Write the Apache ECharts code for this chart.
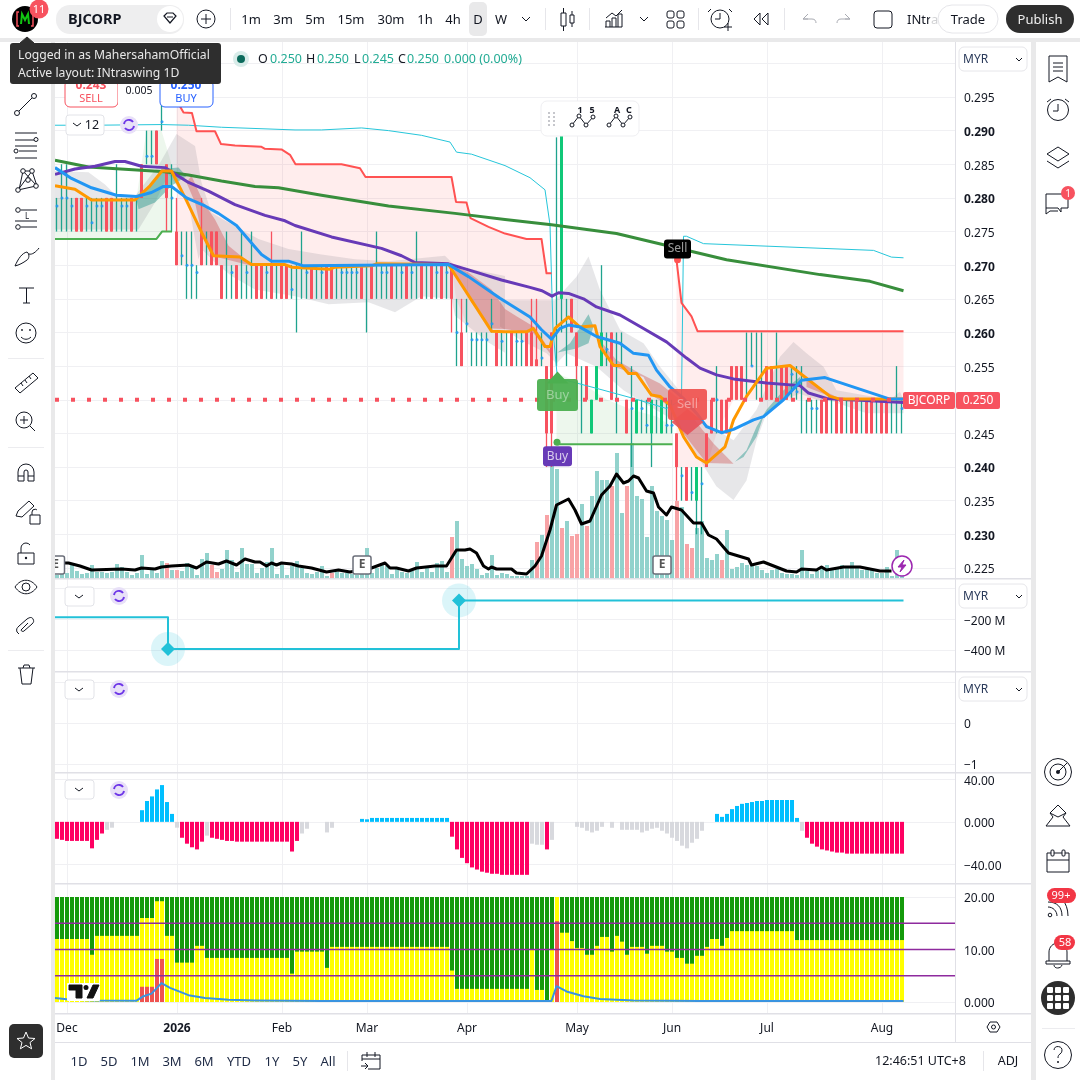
<!DOCTYPE html>
<html><head><meta charset="utf-8"><title>BJCORP</title>
<style>html,body{margin:0;padding:0;background:#fff}#c{width:1080px;height:1080px}</style>
<script src="https://cdn.jsdelivr.net/npm/echarts@6/dist/echarts.min.js"></script></head>
<body><div id="c"></div>
<script>
// ---------- time ticks
const tickIndex=[2,24,45,62,82,104,123,142,165];
const tickLabels=['Dec','2026','Feb','Mar','Apr','May','Jun','Jul','Aug'];
// ---------- candles (170 daily bars)
const candleLow=[.275,.275,.275,.275,.275,.275,.275,.275,.275,.275,
.275,.275,.275,.275,.275,.275,.275,.280,.285,.285,
.285,.290,.275,.275,.270,.270,.265,.265,.265,.270,
.270,.270,.270,.265,.265,.265,.265,.265,.265,.265,
.265,.265,.265,.265,.265,.265,.265,.265,.260,.265,
.265,.265,.265,.265,.265,.265,.265,.265,.265,.265,
.265,.265,.260,.265,.265,.265,.265,.265,.265,.265,
.265,.265,.265,.265,.265,.265,.265,.265,.265,.260,
.255,.255,.260,.255,.255,.255,.255,.260,.255,.255,
.255,.255,.255,.255,.255,.255,.255,.255,.240,.240,
.255,.260,.255,.260,.250,.245,.250,.245,.250,.255,
.255,.250,.245,.255,.245,.240,.245,.245,.245,.240,
.245,.245,.245,.245,.235,.235,.235,.235,.230,.230,
.240,.245,.245,.245,.245,.250,.250,.250,.250,.255,
.250,.250,.250,.250,.250,.250,.250,.250,.250,.245,
.245,.245,.245,.245,.245,.245,.245,.245,.245,.245,
.245,.245,.245,.245,.245,.245,.245,.245,.245,.245];
const candleHigh=[.280,.285,.285,.280,.280,.280,.280,.280,.280,.280,
.280,.280,.285,.280,.280,.280,.280,.285,.290,.290,
.290,.295,.285,.285,.280,.275,.275,.275,.270,.280,
.275,.275,.275,.270,.275,.270,.270,.275,.270,.275,
.270,.270,.270,.275,.270,.270,.270,.270,.270,.275,
.270,.270,.270,.270,.270,.270,.270,.270,.270,.270,
.270,.270,.270,.270,.275,.270,.270,.270,.270,.270,
.270,.270,.275,.270,.270,.270,.270,.270,.270,.270,
.265,.265,.265,.260,.260,.260,.260,.265,.260,.260,
.260,.260,.260,.260,.260,.265,.265,.260,.255,.260,
.289,.290,.265,.265,.260,.255,.255,.250,.255,.270,
.260,.260,.260,.260,.250,.255,.250,.250,.250,.250,
.250,.250,.250,.250,.245,.240,.240,.240,.240,.240,
.245,.250,.255,.250,.250,.255,.255,.255,.260,.260,
.260,.260,.255,.255,.260,.255,.255,.255,.255,.255,
.250,.250,.250,.250,.250,.250,.250,.250,.250,.250,
.250,.250,.250,.250,.250,.250,.250,.250,.255,.250];
const candleOpen=[.275,.275,.275,.275,.280,.280,.275,.275,.275,.275,
.280,.280,.275,.275,.275,.280,.275,.285,.285,.285,
.290,.290,.285,.275,.275,.270,.265,.265,.265,.275,
.270,.275,.275,.270,.265,.265,.270,.265,.265,.265,
.270,.270,.265,.270,.265,.270,.270,.265,.260,.265,
.265,.270,.265,.265,.270,.270,.265,.265,.265,.265,
.265,.270,.260,.270,.265,.265,.265,.270,.265,.265,
.270,.265,.265,.270,.265,.270,.265,.270,.265,.270,
.255,.260,.260,.255,.255,.255,.255,.260,.260,.255,
.255,.260,.255,.255,.260,.260,.256,.255,.255,.260,
.255,.265,.255,.265,.260,.245,.255,.245,.250,.255,
.255,.260,.245,.255,.250,.240,.245,.245,.245,.245,
.245,.245,.245,.245,.245,.235,.240,.235,.235,.230,
.245,.250,.245,.250,.250,.255,.255,.255,.250,.255,
.250,.250,.255,.255,.250,.255,.255,.250,.250,.245,
.245,.245,.245,.250,.250,.245,.250,.250,.245,.250,
.250,.245,.250,.250,.245,.250,.250,.245,.245,.245];
const candleClose=[.275,.275,.275,.275,.275,.275,.275,.275,.275,.275,
.275,.275,.275,.275,.275,.275,.275,.280,.285,.285,
.285,.290,.280,.275,.270,.270,.265,.265,.265,.270,
.270,.270,.270,.265,.265,.265,.265,.265,.265,.265,
.265,.265,.265,.265,.265,.265,.265,.265,.260,.265,
.265,.265,.265,.265,.265,.265,.265,.265,.265,.265,
.265,.265,.260,.265,.265,.265,.265,.265,.265,.265,
.265,.265,.265,.265,.265,.265,.265,.265,.265,.265,
.255,.255,.260,.255,.255,.255,.255,.260,.255,.255,
.255,.255,.255,.255,.255,.255,.255,.255,.245,.245,
.255,.290,.255,.260,.255,.245,.250,.250,.255,.260,
.255,.250,.245,.255,.245,.240,.250,.245,.245,.250,
.245,.250,.245,.245,.240,.235,.235,.235,.240,.230,
.240,.245,.245,.245,.245,.250,.250,.250,.250,.255,
.250,.250,.250,.250,.250,.250,.250,.250,.250,.245,
.245,.245,.245,.245,.245,.245,.245,.245,.245,.245,
.245,.245,.245,.245,.245,.245,.245,.245,.245,.245];
const dotIndex=[0,1,2,3,6,7,8,9,13,14,18,19,21,23,25,26,27,28,35,38,42,47,50,53,57,58,59,60,65,66,69,71,76,78,80,82,83,84,85,86,87,89,92,93,97,110,115,117,118,122,123,125,127,129,132,139,147,148,151,152,169];
const dotPrice=[.2788,.28,.28,.2788,.2788,.2763,.2788,.2788,.2788,.2788,.2862,.2862,.2913,.28,.2714,.27,.27,.2689,.2689,.2689,.2689,.2664,.2689,.2689,.2689,.2689,.2689,.2689,.2689,.2689,.2689,.2689,.2689,.2689,.26,.2613,.2589,.2589,.2589,.2589,.2613,.2587,.2587,.2587,.2562,.2575,.2487,.2487,.2462,.2462,.2462,.2387,.2362,.2375,.25,.255,.2538,.2512,.2487,.2487,.2487];
// ---------- price overlays, [bar, price] vertices
const blueLine=[[-.4,.2845],[2.9,.2829],[6.9,.2815],[11.9,.2804],[15.9,.2802],[18.9,.2808],[21.3,.2817],[22.9,.2817],[25.9,.28],[29.6,.2788],[32.3,.2777],[35.9,.2759],[38.9,.2733],[40.9,.2716],[42.9,.2706],[46.3,.2706],[49.3,.2699],[78.3,.2701],[82.3,.2683],[88.6,.2651],[94.6,.2623],[96.9,.2604],[98.9,.259],[100.6,.2606],[102.3,.2611],[104.6,.2608],[107.9,.2594],[112.6,.2584],[115.3,.2569],[118.3,.2566],[119.9,.2544],[122.6,.2519],[125.3,.2502],[127.9,.248],[129.9,.246],[132.9,.2451],[135.3,.2456],[139.3,.247],[141.3,.2475],[145.3,.25],[148.9,.2529],[153.6,.2533],[166.6,.2501],[169.3,.2501]];
const orangeLine=[[-.4,.2818],[3.6,.2813],[6.9,.2797],[15.6,.2797],[18.6,.2818],[21,.284],[22.9,.284],[25.9,.2796],[28.9,.2749],[31.3,.2714],[36.6,.2712],[38.9,.2701],[45.6,.2701],[46.9,.2697],[54.6,.2694],[55.6,.2697],[62.9,.2699],[63.9,.2702],[78.3,.2701],[86.9,.2602],[89.6,.2601],[93.9,.2601],[95.3,.2606],[97.6,.2579],[98.6,.2579],[99.6,.2606],[102.3,.2623],[104.6,.2608],[107.6,.261],[108.6,.2579],[111.3,.2551],[112.9,.2551],[114.3,.2539],[115.9,.2539],[118.9,.2507],[120.6,.2505],[122.6,.2492],[125.3,.2445],[127.9,.2415],[129.9,.2406],[133.6,.243],[135.3,.247],[137.9,.2505],[141.9,.2547],[146.6,.2551],[149.9,.2532],[154.6,.2505],[156.6,.2501],[169.3,.2501]];
const purpleLine=[[-.4,.2835],[3.6,.2843],[7.6,.2847],[11.6,.2854],[13.6,.2854],[16.9,.2847],[21.6,.2845],[26.3,.2823],[30.3,.281],[35.6,.279],[41.6,.2774],[45.6,.2766],[47.6,.2759],[54.9,.2742],[64.9,.2725],[68.9,.2714],[71.6,.2704],[78.3,.2702],[82.3,.2693],[88.9,.2678],[94.6,.2667],[97,.2662],[99,.2654],[100.3,.2659],[102.3,.2658],[105.3,.265],[107.9,.2638],[112.6,.2626],[117.3,.2606],[121.9,.2586],[125.9,.2562],[128.6,.2547],[131.9,.2537],[135.3,.2531],[141.9,.2525],[148.6,.2521],[150.3,.251],[153.9,.2502],[169.3,.2496]];
const greenLine=[[-.4,.2856],[6.3,.2846],[21.6,.2839],[26.3,.2834],[32.9,.2825],[39.6,.2817],[44.3,.2815],[52.9,.2804],[66.3,.2788],[79.6,.2777],[89.6,.2768],[98.9,.276],[111.9,.2747],[133.9,.2708],[152.6,.2686],[162.6,.2676],[169.3,.2662]];
const cyanLine=[[-.4,.2908],[7.6,.2908],[20.9,.2909],[26.3,.2908],[32.9,.2905],[47.6,.2901],[52.9,.2901],[60.9,.2904],[66.3,.29],[72.9,.2893],[78.6,.2883],[79.9,.2868],[82.9,.2865],[89.6,.2848],[94.6,.283],[97.6,.2812],[98.6,.276],[99.2,.2603],[100,.2539],[101.3,.253],[107.9,.2517],[115.3,.2502],[121.9,.2487],[124.9,.25],[125.3,.2743],[125.9,.2743],[129.3,.2732],[163.3,.2722],[166.9,.2712],[169.3,.2711]];
const stopRedA=[[23.9,.2945],[25.3,.2927],[27,.2926],[27.9,.2899],[31.6,.2899],[32.8,.288],[35.6,.2878],[40.9,.2876],[41.6,.2873],[44.9,.2872],[46.6,.2864],[47.7,.285],[56.9,.285],[60.6,.2844],[61.7,.2831],[78.9,.2831],[79.8,.2794],[81.9,.2793],[82.7,.277],[86.3,.2757],[89.6,.2747],[93.9,.2739],[96.9,.2739],[97.9,.2688],[98.9,.2688]];
const stopRedAFloor=[[98.9,.255],[94.9,.255],[93.9,.26],[82.7,.26],[79.8,.265],[78.9,.27],[23.9,.27]];
const stopRedB=[[123.9,.2708],[124.9,.2644],[126.9,.2624],[128.1,.2602],[169.3,.2602]];
const stopRedBFloor=[[169.3,.25],[135.3,.25],[131.9,.245],[129.9,.24],[123.9,.24]];
const stopGreenA=[[-.4,.2739],[19.9,.2739],[21,.275],[23,.275]];
const stopGreenACeil=[[23,.28],[22.9,.285],[20.9,.29],[17.9,.29],[16.9,.285],[15.9,.28],[-.4,.28]];
const stopGreenB=[[99.9,.2434],[123.1,.2434]];
const stopGreenBCeil=[[123,.246],[120,.2475],[115,.2485],[110,.25],[104.9,.2525],[99.9,.2539]];
const greyBandA=[[-.4,.284],[6.3,.2838],[9.6,.282],[11.6,.2805],[15.6,.2803],[20.3,.2848],[23.9,.2895],[27.6,.2877],[28.9,.2823],[30.9,.2778],[35.6,.2758],[40.3,.2739],[46.3,.2724],[52.9,.2716],[59.6,.2709],[66.3,.2706],[77.6,.2714],[79.6,.2699],[89.6,.2684],[89.6,.257],[86.3,.2585],[79.6,.2625],[78.9,.265],[72.9,.2654],[67.6,.263],[62.3,.2645],[54.3,.2642],[47.6,.2654],[39.6,.2664],[34.9,.2684],[31.6,.2704],[28.9,.2724],[28.3,.2709],[26.3,.2793],[23.9,.2818],[22.3,.2835],[19.6,.2793],[16.3,.2753],[-.4,.2753]];
const greyBandB=[[88.6,.2648],[99.6,.2648],[103.9,.2683],[106.3,.2713],[108.6,.2663],[112.6,.2604],[117.3,.2584],[120.6,.2549],[123.9,.2519],[128.6,.247],[135.3,.244],[139.9,.2485],[144.6,.2564],[147.3,.2586],[149.9,.2569],[153.3,.2549],[155.9,.2514],[166.6,.25],[168.6,.2512],[169.3,.25],[169.3,.248],[161.9,.248],[155.3,.2497],[151.9,.25],[148.6,.2509],[145.3,.25],[141.9,.248],[139.9,.244],[137.9,.238],[135.3,.2351],[131.9,.2371],[128.6,.241],[123.3,.247],[118.6,.249],[113.3,.2514],[107.9,.2549],[101.9,.2569],[99.9,.2554],[97.9,.2569],[92.6,.2589],[88.6,.2609]];
const redCloudA=[[26.9,.2833],[29.3,.2793],[31.6,.2768],[34.3,.2729],[38.9,.2701],[38.9,.2699],[30.9,.2714],[28.9,.2749],[27.6,.2793],[25.9,.2823]];
const redCloudB=[[78.9,.2701],[82.3,.2689],[86.9,.2664],[89.6,.2635],[91.9,.2624],[95.3,.2609],[98.6,.2574],[98.6,.2569],[95.3,.2599],[90.6,.2604],[89.6,.2605],[86.9,.2606],[82.9,.2644],[78.9,.2699]];
const redCloudC=[[107.9,.2594],[111.9,.2559],[116.6,.2539],[120.6,.2524],[124.6,.25],[128.6,.246],[131.3,.2435],[135.3,.2405],[129.9,.2406],[127.9,.2425],[125.3,.245],[122.6,.249],[119.3,.2505],[117.3,.2534],[114.3,.2542],[111.3,.2549],[108.6,.2579]];
const redCloudD=[[149.9,.2529],[154.6,.2509],[157.9,.2497],[166.6,.25],[161.9,.2497],[155.3,.2503],[149.9,.2519]];
const tealCloudA=[[15.9,.2798],[18.9,.2818],[20.9,.2843],[24.3,.2845],[25.9,.2832],[22.9,.2818],[19.6,.2793],[16.3,.2783]];
const tealCloudB=[[99.9,.2569],[102.6,.2584],[106.3,.2627],[107.3,.2609],[106.3,.2584],[103.9,.2576],[99.9,.257]];
const tealCloudC=[[135.6,.2408],[137.9,.2425],[139.9,.246],[141.9,.2485],[145.3,.2514],[148.6,.2534],[148.9,.2524],[145.9,.2504],[141.3,.2475],[139.9,.2445],[137.3,.2415]];
const lastPriceSpan=[[-.4,.25],[169.6,.25]];
// ---------- volume (relative, axis hidden)
const volume=[3,5,5,14,7,4,5,13,6,6,5,6,14,11,6,3,5,23,4,8,5,17,15,8,8,7,15,13,3,19,25,13,6,9,28,18,6,30,14,14,5,10,16,30,4,13,3,12,17,10,5,4,6,12,2,5,6,5,5,4,3,5,30,5,10,14,12,4,10,6,5,7,16,6,11,6,15,17,6,41,57,19,12,14,9,3,5,23,3,5,4,2,2,2,2,18,36,43,63,118,109,50,57,42,44,74,52,82,107,98,98,92,125,65,92,135,82,79,41,92,67,62,58,38,77,71,34,30,50,57,20,18,24,18,48,9,11,15,13,12,12,8,5,8,9,5,4,4,3,28,7,4,7,10,13,8,10,13,11,16,10,8,10,8,5,5,11,2,28,2];
const volumeRedBars=[22,24,31,32,55,79,96,98,101,103,104,106,111,114,124,126,127,133];
const volumeAverage=[[-.4,15],[2.3,15],[4.6,12],[6.9,8],[12.9,9],[15.6,8],[16.9,10],[19.6,9],[20.9,11],[22.9,12],[26.3,13],[27.9,10],[29.9,16],[32.3,14],[33.9,17],[35.9,13],[37.6,19],[39.6,16],[40.6,16],[41.9,12],[42.9,15],[43.9,13],[44.9,15],[46.9,14],[48.3,12],[50.9,10],[53.9,6],[56.3,8],[58.6,6],[62.9,10],[65.6,15],[66.6,10],[67.9,10],[70.3,7],[71.9,10],[75.6,12],[77.9,12],[79.9,28],[81.6,28],[82.6,29],[83.9,25],[85.3,12],[86.3,9],[86.9,11],[87.9,9],[89.6,9],[90.9,9],[91.9,5],[93.9,4],[95.6,12],[96.9,22],[98.6,48],[99.9,73],[102.3,79],[103.6,68],[104.9,54],[106.6,57],[108.9,83],[110.6,92],[111.9,104],[113.3,95],[114.3,97],[115.3,102],[116.3,100],[117.9,87],[119.3,85],[120.3,71],[121.9,63],[122.9,71],[124.9,68],[127.3,55],[128.9,55],[130.3,43],[131.9,39],[134.3,25],[138.3,19],[138.9,13],[141.3,16],[145.9,7],[147.9,6],[148.9,9],[151.9,8],[152.9,11],[153.9,8],[157.3,11],[160.6,11],[164.6,7],[166.9,7]];
const earningsBars=[-.3,61,121];
// ---------- pane 2: step line in millions
const stepLine=[[-.4,-187],[22.2,-187],[22.2,-394],[80.4,-394],[80.4,-77],[169.3,-77]];
const stepMarkers=[[22.2,-394],[80.4,-77]];
// ---------- pane 4: histogram
const histogram=[-16,-17,-18,-18,-18,-18,-18,-25,-17,-11,-7.5,-5.5,0,0,0,0,0,11,19.7,24,30.6,34.7,18.7,7.5,-5.5,-15,-20.6,-24,-26,-18.7,-13,-15,-16,-17,-18,-18,-18.7,-18.7,-18.7,-18.7,-18.7,-18.7,-18.7,-18.7,-18.7,-18.7,-18.7,-28,-18,-11,-6.5,0,0,0,-10,-5.6,0,0,0,0,0,2.8,2.4,3.7,3.7,3.7,3.7,3.7,3.7,3.7,3.7,3.7,3.7,3.7,3.7,3.7,3.7,3.7,3.7,-14,-26,-34,-39,-43,-45,-47,-48,-49,-49,-50,-50,-50,-50,-50,-50,-20.6,-21.6,-21.6,-26,-17,0,0,0,0,-4.7,-5.6,-8.4,-10,-8.4,-4.7,0,-5.6,0,-7.5,-7.5,-7.5,-7.5,-10,-8.4,-6.5,-5.6,-8.4,-11,-15,-18,-22.5,-25,-19.7,-16,-8.4,0,0,7.5,4.7,7.5,12,15,17,17.8,18.7,19.7,19.7,20.6,20.6,20.6,20.6,20.6,20.6,3.7,-8.4,-15,-20.6,-23.4,-26,-27,-28,-29,-29,-30,-30,-30,-30,-30,-30,-30,-30,-30,-30,-30,-30];
const histogramGreyBars=[10,11,24,30,49,50,54,55,95,96,97,99,104,105,106,107,108,109,111,113,114,115,116,117,118,119,120,121,122,123,124,125,126,127,128,129,149];
// ---------- pane 5: stacked indicator
const greenTop=20;
const yellowValue=[12,12,12,12,12,12,12,9,12.6,12.6,12.6,12.6,12.6,12.6,12.6,12.6,12.6,16,16,16,19.2,19.2,12.6,12.6,7.5,7.5,7.5,7.5,10.7,10.7,8.4,8.4,8.4,8.4,8.4,8.4,8.4,8.4,8.4,8.4,8.4,8.4,8.4,8.4,8.4,8.4,8.4,5.4,9.6,9.6,9.6,9.6,9.6,9.6,6.5,10.5,10.5,10.5,10.5,10.5,10.5,10.5,10.5,10.5,10.5,10.5,10.5,10.5,10.5,10.5,10.5,10.5,10.5,10.5,10.5,10.5,10.5,10.5,10.5,6,2.5,2.5,2.5,2.5,2.5,2.5,2.5,2.5,2.5,2.5,2.5,2.5,2.5,2.5,2.5,9.9,2.3,2.3,0,9.9,20,13.2,13.2,11.6,10.3,10.3,9,9,10.7,12.4,12.4,9.6,12.6,11.5,9,10.5,10.5,10.5,9.2,10.7,10.7,10.7,9.6,9.6,8.4,8.4,7.3,7.3,8.8,8.8,10.5,12,12,10.7,12.2,13.5,13.5,13.5,13.5,13.5,13.5,13.5,13.5,13.5,13.5,13.5,13.5,13.5,11.8,11.8,11.8,11.8,11.8,11.8,11.8,11.8,11.8,11.8,11.8,11.8,11.8,11.8,11.8,11.8,11.8,11.8,11.8,11.8,11.8,11.8];
const redIndex=[17,18,19,20,21,100];
const redValue=[2.9,2.9,2.9,8.2,8.2,15.4];
const dmiLine=[[-.4,.76],[2.9,.44],[7.6,.3],[15.9,.25],[17.3,1.1],[18.9,1.6],[20.9,3.6],[22.6,2.7],[26.3,1.3],[29.6,.76],[34.3,.44],[39.6,.3],[52.9,.2],[98.9,.2],[99.9,3],[101.9,2],[105.3,1.1],[108.6,.57],[115.3,.3],[128.6,.2],[169.3,.2]];
const levelLines=[15,10,5];
// ---------- axis ticks
const priceGrid=[.225,.23,.235,.24,.245,.25,.255,.26,.265,.27,.275,.28,.285,.29,.295,.30];
const priceLabels=[.225,.23,.235,.24,.245,.255,.26,.265,.27,.275,.28,.285,.29,.295];
const stepTicks=[0,-200,-400];
const stepLabels=[-200,-400];
const emptyTicks=[1,0,-1];
const emptyLabels=[0,-1];
const histTicks=[40,0,-40];
const dmiTicks=[20,10,0];

const FONT='"Noto Sans",sans-serif';
const INK='#131722', GRID='#f0f0f3', TEAL='#1fa38e', RED='#f7525f';
const minus=s=>String(s).replace('-','\u2212');
const barIndex=candleLow.map((_,i)=>i);

// ---------- helpers for series
function poly(pts,color,z){return{type:'custom',xAxisIndex:0,yAxisIndex:0,z,silent:true,data:[pts[0]],
  renderItem:(p,api)=>({type:'polygon',shape:{points:pts.map(q=>api.coord(q))},style:{fill:color}})};}
function line(data,color,width,z,x=0,y=0,extra={}){return Object.assign({type:'line',xAxisIndex:x,yAxisIndex:y,data,z,silent:true,showSymbol:false,symbol:'none',lineStyle:{color,width,join:'round',cap:'butt'},animation:false},extra);}
function bars(data,color,x,y,z){return{type:'bar',xAxisIndex:x,yAxisIndex:y,data,z,barWidth:4,barGap:'-100%',silent:true,itemStyle:{color}};}
// rounded-box symbol outline
function box(w,h,r){return `path://M${r} 0H${w-r}A${r} ${r} 0 0 1 ${w} ${r}V${h-r}A${r} ${r} 0 0 1 ${w-r} ${h}H${r}A${r} ${r} 0 0 1 0 ${h-r}V${r}A${r} ${r} 0 0 1 ${r} 0Z`;}

const series=[
 poly(stopRedA.concat(stopRedAFloor),'rgba(255,82,82,.10)',1),
 poly(stopRedB.concat(stopRedBFloor),'rgba(255,82,82,.10)',1),
 poly(stopGreenA.concat(stopGreenACeil),'rgba(76,175,80,.10)',1),
 poly(stopGreenB.concat(stopGreenBCeil),'rgba(76,175,80,.10)',1),
 poly(greyBandA,'rgba(120,123,134,.18)',2),
 poly(greyBandB,'rgba(120,123,134,.18)',2),
 poly(redCloudA,'rgba(200,50,50,.32)',3),poly(redCloudB,'rgba(200,50,50,.32)',3),
 poly(redCloudC,'rgba(200,50,50,.32)',3),poly(redCloudD,'rgba(200,50,50,.32)',3),
 poly(tealCloudA,'rgba(38,150,140,.45)',3),poly(tealCloudB,'rgba(38,150,140,.45)',3),poly(tealCloudC,'rgba(38,150,140,.45)',3),
 bars(volume.map((v,i)=>({value:[i,v],itemStyle:{color:volumeRedBars.includes(i)?'#f8a3a6':'#92d2cc',opacity:1}})),'#92d2cc',0,1,4),
 {type:'custom',xAxisIndex:0,yAxisIndex:0,z:5,silent:true,
  data:barIndex.map(i=>[i,candleOpen[i],candleClose[i],candleLow[i],candleHigh[i]]),encode:{x:0,y:1},
  renderItem:(p,api)=>{const i=api.value(0),o=api.value(1),c=api.value(2),l=api.value(3),h=api.value(4);
    const a=api.coord([i,h]),b=api.coord([i,l]),t=api.coord([i,Math.max(o,c)]),u=api.coord([i,Math.min(o,c)]);
    const col=o>c?RED:TEAL, bodyCol=o>c?RED:'#10c878', wx=Math.round(a[0])-.5;
    const kids=[{type:'line',shape:{x1:wx,y1:a[1],x2:wx,y2:b[1]},style:{stroke:col,lineWidth:1.3}}];
    if(o!==c)kids.push({type:'rect',shape:{x:wx-1.5,y:t[1],width:3,height:u[1]-t[1]},style:{fill:bodyCol}});
    return{type:'group',children:kids};}},
 {type:'scatter',xAxisIndex:0,yAxisIndex:0,z:5,silent:true,symbolSize:3,itemStyle:{color:'#2196f3',opacity:.85},data:dotIndex.map((d,i)=>[d,dotPrice[i]])},
 line(cyanLine,'#26c6da',1,6),
 line(stopRedA,'#ff5252',2,6),line(stopRedB,'#ff5252',2,6),
 line(stopGreenA,'#4caf50',2,6),line(stopGreenB,'#4caf50',2,6),
 line(greenLine,'#388e3c',3,6),line(purpleLine,'#673ab7',3,7),
 line(orangeLine,'#ff9800',3,7),line(blueLine,'#2196f3',3,7),
 line(lastPriceSpan,RED,4,7,0,0,{lineStyle:{color:RED,width:4,type:[4,12]}}),
 line(volumeAverage,'#000',3,8,0,1),
 {type:'scatter',xAxisIndex:0,yAxisIndex:1,z:9,silent:true,symbol:box(18,18,2),symbolSize:18,
  itemStyle:{color:'#fff',borderColor:'#6a6d78',borderWidth:1.5,opacity:1},
  label:{show:true,position:'inside',formatter:'E',color:'#555',fontSize:12,fontFamily:FONT,fontWeight:'bold'},
  data:earningsBars.map(b=>[b,13])},
 // Signal markers
 {type:'scatter',xAxisIndex:0,yAxisIndex:0,z:9,silent:true,data:[
  {value:[100,.2437],symbol:'circle',symbolSize:7,itemStyle:{color:'#4caf50',opacity:1}},
  {value:[124.1,.2708],symbol:'circle',symbolSize:7,itemStyle:{color:'#ff5252',opacity:1}},
  {value:[100.1,.2533],symbol:'triangle',symbolSize:[22,12],itemStyle:{color:'#4caf50',opacity:1}},
  {value:[100.1,.2507],symbol:box(41,32,3),symbolSize:[41,32],itemStyle:{color:'#4caf50',opacity:.95},label:{show:true,formatter:'Buy',color:'rgba(255,255,255,.45)',fontSize:13,fontFamily:FONT}},
  {value:[100.1,.2416],symbol:box(29,20,3),symbolSize:[29,20],itemStyle:{color:'#673ab7',opacity:1},label:{show:true,formatter:'Buy',color:'rgba(255,255,255,.75)',fontSize:12,fontFamily:FONT}},
  {value:[126.1,.2467],symbol:'diamond',symbolSize:[32,26],itemStyle:{color:'#e5505a',opacity:.92}},
  {value:[126.1,.2493],symbol:box(39,31,3),symbolSize:[39,31],itemStyle:{color:'#ef5350',opacity:.93},label:{show:true,formatter:'Sell',color:'rgba(255,255,255,.45)',fontSize:13,fontFamily:FONT}},
  {value:[124.1,.2724],symbol:box(27,19,3),symbolSize:[27,19],itemStyle:{color:'#000',opacity:1},label:{show:true,formatter:'Sell',color:'rgba(255,255,255,.6)',fontSize:12,fontFamily:FONT}}
 ]},
 // pane 2
 line(stepLine,'#22c1d8',2,6,1,2),
 {type:'scatter',xAxisIndex:1,yAxisIndex:2,z:5,silent:true,symbolSize:34,itemStyle:{color:'rgba(34,193,216,.16)',opacity:1},data:stepMarkers},
 {type:'scatter',xAxisIndex:1,yAxisIndex:2,z:7,silent:true,symbol:'diamond',symbolSize:14,itemStyle:{color:'#22c1d8',opacity:1},data:stepMarkers},
 // pane 4
 bars(histogram.map((v,i)=>({value:[i,v],itemStyle:{color:histogramGreyBars.includes(i)?'#d8d9de':(v>0?'#00bfff':'#ff0062')}})),'#ff0062',3,4,3),
 // pane 5
 bars(barIndex.map(i=>[i,greenTop]),'#149a0a',4,5,2),
 bars(yellowValue.map((v,i)=>[i,v]),'#ffff00',4,5,3),
 bars(redIndex.map((d,i)=>[d,redValue[i]]),'#ef5350',4,5,4),
 ...levelLines.map(v=>line([[-.4,v],[179.6,v]],'#8e2a9e',1.4,5,4,5)),
 line(dmiLine,'#3a94e0',2,6,4,5)
];

// ---------- axes
const panes=[{top:42,height:536},{top:579,height:92},{top:672,height:100},{top:773,height:110},{top:884,height:130}];
const grid=panes.map(p=>({left:55,width:900,top:p.top,height:p.height,containLabel:false}));
const xAxis=panes.map((p,k)=>({type:'value',gridIndex:k,min:-.4,max:179.6,
  axisLine:{show:false},axisTick:{show:false,customValues:tickIndex},splitLine:{show:true,lineStyle:{color:GRID,width:1}},
  axisLabel:{show:k===4,customValues:tickIndex,margin:9,color:INK,fontSize:12,fontFamily:FONT,hideOverlap:false,
    formatter:v=>{const s=tickLabels[tickIndex.indexOf(v)];return s==='2026'?'{b|'+s+'}':s;},
    rich:{b:{fontWeight:'bold',fontSize:12,fontFamily:FONT,color:INK}}}}));
const labelRich={b:{fontWeight:'bold',fontSize:12,fontFamily:FONT,color:INK},n:{fontSize:12,fontFamily:FONT,color:INK}};
function yAx(g,min,max,ticks,labels,fmt){return{type:'value',gridIndex:g,position:'right',min,max,
  axisLine:{show:false},axisTick:{show:false,customValues:ticks},splitLine:{show:true,lineStyle:{color:GRID,width:1}},
  axisLabel:{customValues:labels,margin:9,padding:[4,0,0,0],color:INK,fontSize:12,fontFamily:FONT,
    formatter:v=>{const s=fmt(v);return s[0]==='{'?s:'{n|'+s+'}';},rich:labelRich,hideOverlap:false}};}
const yAxis=[
 yAx(0,.22351,.30317,priceGrid,priceLabels,v=>{const s=v.toFixed(3);return Math.round(v*1000)%10===0?'{b|'+s+'}':s;}),
 {type:'value',gridIndex:0,position:'right',min:0,max:536,show:false,splitLine:{show:false}},
 yAx(1,-537,62.5,stepTicks,stepLabels,v=>minus(v)+' M'),
 yAx(2,-1.195,1.244,emptyTicks,emptyLabels,v=>minus(v)),
 yAx(3,-57.7,46.1,histTicks,histTicks,v=>v===0?'0.000':minus(v.toFixed(2))),
 yAx(4,-2.29,22.48,dmiTicks,dmiTicks,v=>v===0?'0.000':v.toFixed(2))
];

// ---------- chrome
const G=[];
let pathSeq=0;
const rect=(x,y,w,h,fill,r=0,stroke,lw=1)=>G.push({type:'rect',shape:{x,y,width:w,height:h,r},style:{fill,stroke,lineWidth:lw}});
const circ=(x,y,r,fill,stroke,lw=1)=>G.push({type:'circle',shape:{cx:x,cy:y,r},style:{fill:fill||'none',stroke,lineWidth:lw}});
const path=(d,stroke='#131722',lw=1,fill='none')=>{const name='iconPath'+(pathSeq++);echarts.graphic.registerShape(name,echarts.graphic.extendPath(d,{}));G.push({type:name,shape:{},style:{stroke,lineWidth:lw,fill}});};
const text=(s,x,y,o={})=>G.push({type:'text',style:{text:s,x,y:y+.8,fill:o.c||INK,align:o.a||'center',verticalAlign:'middle',font:(o.w||'normal')+' '+(o.s||13)+'px '+FONT}});
// gutters
rect(0,0,1080,38,'#fff');rect(0,38,51,1042,'#fff');rect(1036,42,44,1038,'#fff');
rect(0,38,1080,4,'#e9e9ea');rect(51,38,4,1042,'#e9e9ea');rect(1031,38,5,1042,'#e9e9ea');
// pane dividers
[578,671,772,883,1013].forEach(y=>rect(55,y,976,1.5,'#e0e0e6'));rect(955,42,1,1000,'#e0e0e6');rect(55,1042,976,1,'#e0e0e6');
// top bar
circ(25,19,13,'#000');path('M19 12h-2v14h2M31 12h2v14h-2',RED,1.5);path('M21 24l1-10 3 6 3-6 1 10','#11c511',2);circ(39,9,9.5,RED);text('11',39,9,{c:'#fff',s:11});
rect(56,5,128,29,'#eeeeef',14);text('BJCORP',68,19,{a:'left',w:'bold',s:14.5});circ(170,19,13,'#fff');path('M164 16l3-3h6l3 3-6 7zM167 17h6','#131722',1.2);
circ(206,19,9,'none','#131722');path('M201 19h10M206 14v10');
rect(469,2,18,34,'#e9e9ea',5);
[['1m',251],['3m',283],['5m',315],['15m',351],['30m',391],['1h',425],['4h',453],['D',478],['W',501]].forEach(t=>text(t[0],t[1],19,{s:13}));
path('M522 17l4 4 4-4');
[230,545,589,698,784].forEach(x=>rect(x,8,1,22,'#e6e6ea'));
path('M561 13h5v13h-5zM563.5 8v5M563.5 26v5M570 15h4v8h-4zM572 11v4M572 23v4');
path('M605 27h17M606 27v-6h4v6M612 27v-9h4v9M618 27v-13h4v13M606 18l6-5 4 3 6-6');path('M640 17l4 4 4-4');
[[667,11],[677,11],[667,21],[677,21]].forEach(q=>rect(q[0],q[1],7,7,'none',2,'#131722'));
circ(720,19,9,'none','#131722');path('M720 13v6h-5M711 9l-3 3M729 9l3 3M724 27h8M728 23v8');
path('M760 13l-6 6 6 6zM768 13l-6 6 6 6z');
path('M808 14l-5 5 5 0M803 19h9c3 0 4 2 4 4','#a9abb2');path('M845 14l5 5-5 0M850 19h-9c-3 0-4 2-4 4','#a9abb2');
rect(874,11,18,17,'none',3,'#131722');
text('INtra',907,19,{a:'left',s:13});rect(930,5,8,28,'rgba(255,255,255,.8)');
rect(938,5,60,28,'#fff',14,'#e6e6ea');text('Trade',968,19);rect(1006,5,68,28,'#2e2e2e',14);text('Publish',1040,19,{c:'#f0f0f0'});
// legend row
circ(241,59,8,'#d8ece9');circ(241,59,4,'#0b6a5b');
[['O',258,'0.250',270],['H',306,'0.250',317],['L',354,'0.245',362],['C',398,'0.250',407]].forEach(t=>{text(t[0],t[1],59,{a:'left',s:12.5});text(t[2],t[3],59,{a:'left',c:'#22ab94',s:12.5});});
text('0.000 (0.00%)',444,59,{a:'left',c:'#22ab94',s:12.5});
// Buy / sell buttons
rect(65,80,53,27,'#fff',5,RED);rect(118,80,42,27,'#fff');rect(160,80,53,27,'#fff',5,'#2962ff');
text('0.243',91,85,{c:RED,w:'bold',s:12});text('SELL',91,98,{c:RED,s:11});text('0.005',139,90,{s:10.5});text('0.250',186,85,{c:'#2962ff',w:'bold',s:12});text('BUY',186,98,{c:'#2962ff',s:11});
// tooltip
path('M20 43l7-6 7 6z','#2e2e2e',1,'#2e2e2e');rect(10,43,211,41,'#2e2e2e',3);
text('Logged in as MahersahamOfficial',18,54.5,{a:'left',c:'#e8e8e8',s:12.2});text('Active layout: INtraswing 1D',18,72.5,{a:'left',c:'#e8e8e8',s:12.2});
// floating toolbar
rect(541,101,98,35,'#fff',6,'#efeff2');[112,116,120,124].forEach(y=>{[548,553].forEach(x=>rect(x,y,2,2,'#c6c7cc'));});
[[572,'1','5'],[609,'A','C']].forEach(q=>{const x=q[0];path(`M${x} 125l7-9 7 9 7-8`);[[0,125],[7,116],[14,125],[21,117]].forEach(o=>circ(x+o[0],o[1],2,'#fff','#131722'));text(q[1],x+8,110,{s:9,w:'bold'});text(q[2],x+20,110,{s:9,w:'bold'});});
// MYR chips
[47,584,677].forEach(y=>{rect(959,y,68,24,'#fff',5,'#e6e6ea');text('MYR',963,y+12,{a:'left',c:'#2a3a5a',s:12});path(`M1016 ${y+11}l3 3 3-3`);});
// price tag
rect(903,392,52,17,RED,2);rect(956,392,44,17,RED,2);text('BJCORP',929,400,{c:'#fff',s:12});text('0.250',978,400,{c:'#fff',s:12});
// pane chips
rect(66,115,38,20,'#fff',3,'#e2e3e8');path('M73 123l4 3 4-3');text('12',92,125,{s:12.5});
[[125,129],[596,119],[689,119],[790,119]].forEach(q=>{circ(q[1],q[0],9,'#e8e0f8');path(`M${q[1]-5} ${q[0]-1}a5 5 0 0 1 9-2M${q[1]+5} ${q[0]+1}a5 5 0 0 1-9 2`,'#6d35e8',2);});
[[587],[680],[780]].forEach(q=>{rect(65,q[0],29,19,'#fff',3,'#e2e3e8');path(`M75 ${q[0]+8}l4 3 4-3`);});
// lightning
circ(902,566,10,'#fff','#9c27b0',1.5);path('M904 560l-6 7h4l-2 5 6-7h-4z','#9c27b0',1,'#9c27b0');
// TV logo
rect(67,983,33,18,'#fff',1);path('M69 985h13v13h-6v-8h-7zM87 998l6-13h6l-6 13z','#111',1,'#111');circ(86,987.5,2.5,'#111');
// left tool icons
path('M18.5 111.5L32.5 97.5');circ(17,113,2.5,'#fff','#131722');circ(34,96,2.5,'#fff','#131722');
path('M15 133h22M15 140h19M19 151h18M15 158h22M15 146h22');circ(36,139.5,2,'#fff','#131722');circ(16,151,2,'#fff','#131722');
path('M19 190l4-19 14 15-5-15-14 19M18 190l18-4M23 171l9 0');[[18,190],[23,171],[28,180],[32,171],[36,186]].forEach(q=>circ(q[0],q[1],2.3,'#fff','#131722'));
path('M21 210h16M21 227h16M15 221h22');circ(18,210,2.3,'#fff','#131722');circ(18,227,2.3,'#fff','#131722');text('L',27,216,{s:8});
path('M15 266c3-7 7-13 12-14 3 2 2 7 0 8-4 3-8 5-12 6zM29 254c3 1 7-2 10-6');
path('M19 288h15M26.5 288v15M23 303h7');
circ(26,333,10,'none','#131722');path('M21 337c3 3 7 3 10 0');circ(22,330,.9,'#131722');circ(30,330,.9,'#131722');
path('M15 388l18-15 5 5-18 15zM21 383l2 3M25 380l2 3M29 376l2 3');
circ(24,420,8,'none','#131722');path('M20 420h8M24 416v8M30 426l5 5');
path('M18 481v-9a8 8 0 0 1 16 0v9h-6v-9a2 2 0 0 0-4 0v9zM18 476h6M28 476h6');
path('M16 516l2-5 11-10 5 5-12 11zM30 515h10v9h-10zM32 515v-3a3 3 0 0 1 5-2');
path('M18 553h16v11h-16zM21 553v-5a5 5 0 0 1 9-3');circ(26,558,1.2,'#131722');
path('M15 587c6-9 16-9 22 0-6 9-16 9-22 0z');circ(26,587,4,'none','#131722');
path('M19 634l-2-2c-1-3 0-4 2-6l8-7c3-2 5-2 6 0s1 3-1 5l-8 7c-1 1-3 0-3-1l7-7');
[358,447,650].forEach(y=>rect(8,y,36,1,'#ececef'));
path('M18 668h17M23 668l1-3h5l1 3M20 668l2 16h9l2-16');
rect(9,1024,34,34,'#2e2e2e',5);path('M26 1032l2.5 6 6.5.5-5 4 1.6 6.3-5.6-3.4-5.6 3.4 1.6-6.3-5-4 6.5-.5z','#fff',1);
// right tool icons
path('M1049 56h18v26l-9-5-9 5zM1053 63h10M1053 67h10M1053 71h10');
circ(1058,110,10.5,'none','#131722');path('M1058 104v7h-5M1047 102l4-3M1069 102l-4-3');
path('M1047 154l11-7 11 7-11 7zM1047 161l11 7 11-7');
path('M1046 194h22v14h-7v4l-3-4h-12zM1046 208v6l4-3h8');circ(1068,193,7,RED);text('1',1068,193,{c:'#fff',s:10});
circ(1058,772,13.5,'none','#131722');circ(1058,772,8,'none','#131722');circ(1058,772,2,'#131722');path('M1058 772l9-9');
path('M1046 826l7-9-3-4 8-8 8 8-3 4 7 9zM1050 813l8 4 8-4');
path('M1047 853h22v19h-22zM1047 860h22');rect(1051,850,3,6,'#fff',1,'#131722');rect(1062,850,3,6,'#fff',1,'#131722');
circ(1050,915,1.8,'none','#131722');path('M1048 907c5 0 9 4 9 9M1048 902c9 0 14 5 14 14M1052 894c7 0 16 8 16 22','#131722');
rect(1047,888,29,15,'#f23645',7.5);text('99+',1061,895.5,{c:'#fff',s:11});
path('M1049 961v-9c0-5 4-9 9-9s9 4 9 9v9M1046 961h24v3h-24zM1054 965c0 4 7 4 8 0');rect(1054,935,21,15,'#f23645',7.5);text('58',1065,942.5,{c:'#fff',s:11});
circ(1058,998,17,'#2e2e2e');[990,998,1006].forEach(y=>[1050,1058,1066].forEach(x=>rect(x-3,y-3,6,6,'#fff',1)));
rect(1042,1028,33,1,'#ececef');
circ(1058,1055,13.5,'none','#131722');path('M1054 1050a4 4 0 1 1 6 4c-1.5 1-2 2-2 4');circ(1058,1062,1,'#131722');
// bottom bar
[['1D',79],['5D',109],['1M',140],['3M',172],['6M',204],['YTD',239],['1Y',272],['5Y',300],['All',328]].forEach(t=>text(t[0],t[1],1061,{c:'#1e2a45',s:13}));
rect(347,1051,1,20,'#e6e6ea');path('M362 1055h18v14h-12M362 1055v6M362 1059h18M367 1052v5M375 1052v5M361 1066h7M365 1063l3 3-3 3');
text('12:46:51 UTC+8',875,1061,{a:'left',s:12.5});rect(983,1051,1,20,'#e6e6ea');text('ADJ',1008,1061,{s:12.5});
path('M987 1027l3-5h7l3 5-3 5h-7z');circ(993.5,1027,2,'none','#131722');

const chart=echarts.init(document.getElementById('c'),null,{renderer:'canvas'});
chart.setOption({animation:false,backgroundColor:'#fff',textStyle:{fontFamily:FONT},grid,xAxis,yAxis,series,
  graphic:{elements:G.map(g=>Object.assign(g,{z:100,silent:true}))}});
</script></body></html>
